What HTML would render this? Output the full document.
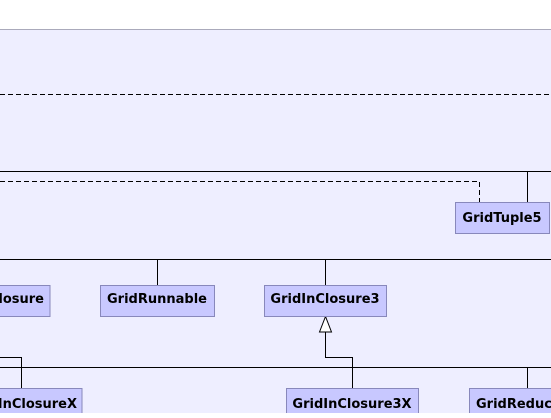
<!DOCTYPE html>
<html><head><style>
body{margin:0;width:551px;height:413px;overflow:hidden;background:#fff}
svg text{font-family:"DejaVu Sans",sans-serif;font-weight:bold;font-size:13px;fill:#000}
</style></head><body>
<svg width="551" height="413" xmlns="http://www.w3.org/2000/svg">
<rect x="0" y="29" width="551" height="384" fill="#eeeeff"/>
<line x1="0" y1="29.5" x2="551" y2="29.5" stroke="#aaaabb" stroke-width="1"/>
<g stroke="#000" stroke-width="1" fill="none">
<line x1="0" y1="94.5" x2="551" y2="94.5" stroke-dasharray="5,3"/>
<line x1="0" y1="171.5" x2="551" y2="171.5"/>
<polyline points="0,181.5 479.5,181.5 479.5,202" stroke-dasharray="5,3"/>
<line x1="527.5" y1="171.5" x2="527.5" y2="202"/>
<line x1="0" y1="259.5" x2="551" y2="259.5"/>
<line x1="157.5" y1="259.5" x2="157.5" y2="285"/>
<line x1="325.5" y1="259.5" x2="325.5" y2="285"/>
<polyline points="325.5,332 325.5,357.5 352.5,357.5 352.5,388"/>
<polyline points="0,357.5 21.5,357.5 21.5,388"/>
<line x1="0" y1="367.5" x2="551" y2="367.5"/>
<line x1="527.5" y1="367.5" x2="527.5" y2="388"/>
</g>
<polygon points="325.5,316.5 319.5,332 331.5,332" fill="#fff" stroke="#000"/>
<g fill="#c8c8ff" stroke="#8888bb" stroke-width="1">
<rect x="455.5" y="202.5" width="94" height="31"/>
<rect x="-10" y="285.5" width="60" height="31"/>
<rect x="100.5" y="285.5" width="114" height="31"/>
<rect x="264.5" y="285.5" width="122" height="31"/>
<rect x="-10" y="388.5" width="92" height="40"/>
<rect x="286.5" y="388.5" width="132" height="40"/>
<rect x="469.5" y="388.5" width="100" height="40"/>
</g>
<text x="502" y="222" text-anchor="middle">GridTuple5</text>
<text x="44" y="303" text-anchor="end">losure</text>
<text x="157" y="303" text-anchor="middle">GridRunnable</text>
<text x="325" y="303" text-anchor="middle">GridInClosure3</text>
<text x="77" y="408" text-anchor="end">InClosureX</text>
<text x="352" y="408" text-anchor="middle">GridInClosure3X</text>
<text x="476" y="408">GridReduc</text>
</svg>
</body></html>
